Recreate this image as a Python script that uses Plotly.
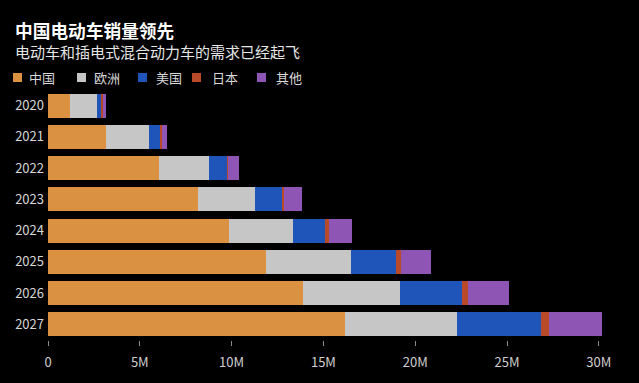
import plotly.graph_objects as go

years = ["2020", "2021", "2022", "2023", "2024", "2025", "2026", "2027"]
series_names = ["中国", "欧洲", "美国", "日本", "其他"]
china = [1.21, 3.14, 6.04, 8.19, 9.85, 11.85, 13.87, 16.16]
europe = [1.44, 2.34, 2.72, 3.11, 3.47, 4.67, 5.31, 6.11]
usa = [0.29, 0.67, 1.02, 1.44, 1.75, 2.44, 3.38, 4.58]
japan = [0.03, 0.04, 0.05, 0.13, 0.23, 0.27, 0.34, 0.42]
other = [0.20, 0.29, 0.55, 0.98, 1.26, 1.64, 2.22, 2.89]
tick_vals = [0, 5, 10, 15, 20, 25, 30]
tick_text = ["0", "5M", "10M", "15M", "20M", "25M", "30M"]

colors = ["#DA9242", "#C6C6C6", "#1F55B8", "#B84A2A", "#8F55B5"]
values = [china, europe, usa, japan, other]

FONT = "Noto Sans CJK SC"

fig = go.Figure()
for name, vals, col in zip(series_names, values, colors):
    fig.add_trace(go.Bar(
        y=years, x=[v * 1e6 for v in vals], name=name, orientation="h",
        marker=dict(color=col, line=dict(width=0)), showlegend=False,
    ))

L, R, T, B = 48, 31, 90, 43
fig.update_layout(
    width=639, height=383,
    margin=dict(l=L, r=R, t=T, b=B, pad=0),
    paper_bgcolor="#000000", plot_bgcolor="#000000",
    barmode="stack", bargap=0.23,
    font=dict(family=FONT, color="#d0d0d0", size=13),
    xaxis=dict(range=[0, 30.5e6], tickvals=[v * 1e6 for v in tick_vals], ticktext=tick_text,
               showgrid=False, zeroline=False, showline=False,
               ticks="outside", ticklen=5, tickwidth=1, tickcolor="#8a8a8a",
               tickfont=dict(size=13, color="#cfcfcf"), ticklabelstandoff=5),
    yaxis=dict(autorange="reversed", showgrid=False, zeroline=False, showline=False,
               ticks="", tickfont=dict(size=13, color="#d8d8d8"), ticklabelstandoff=3),
)

# Title and subtitle
fig.add_annotation(text="<b>中国电动车销量领先</b>", xref="paper", yref="paper", x=0, y=1,
                   xanchor="left", yanchor="middle", xshift=13 - L, yshift=T - 29.5,
                   showarrow=False, font=dict(size=17.7, color="#ffffff", family=FONT))
fig.add_annotation(text="电动车和插电式混合动力车的需求已经起飞", xref="paper", yref="paper", x=0, y=1,
                   xanchor="left", yanchor="middle", xshift=13 - L, yshift=T - 51.5,
                   showarrow=False, font=dict(size=15, color="#e6e6e6", family=FONT))

# Legend (manual)
sq_x = [12.5, 77, 138, 192, 257]
tx_x = [27, 92, 154, 210, 274]
leg_y = 77
for name, col, sx, tx in zip(series_names, colors, sq_x, tx_x):
    fig.add_annotation(text=" ", xref="paper", yref="paper", x=0, y=1,
                       xanchor="left", yanchor="middle", xshift=sx - L, yshift=T - leg_y,
                       width=9, height=9, bgcolor=col, borderpad=0, borderwidth=0,
                       showarrow=False, font=dict(size=6))
    fig.add_annotation(text=name, xref="paper", yref="paper", x=0, y=1,
                       xanchor="left", yanchor="middle", xshift=tx - L, yshift=T - leg_y,
                       showarrow=False, font=dict(size=13, color="#d8d8d8", family=FONT))

fig.write_html("out.html", config={"displayModeBar": False},
               post_script="document.body.style.margin='0';document.body.style.background='#000';"
                           "document.body.style.overflow='hidden';")
